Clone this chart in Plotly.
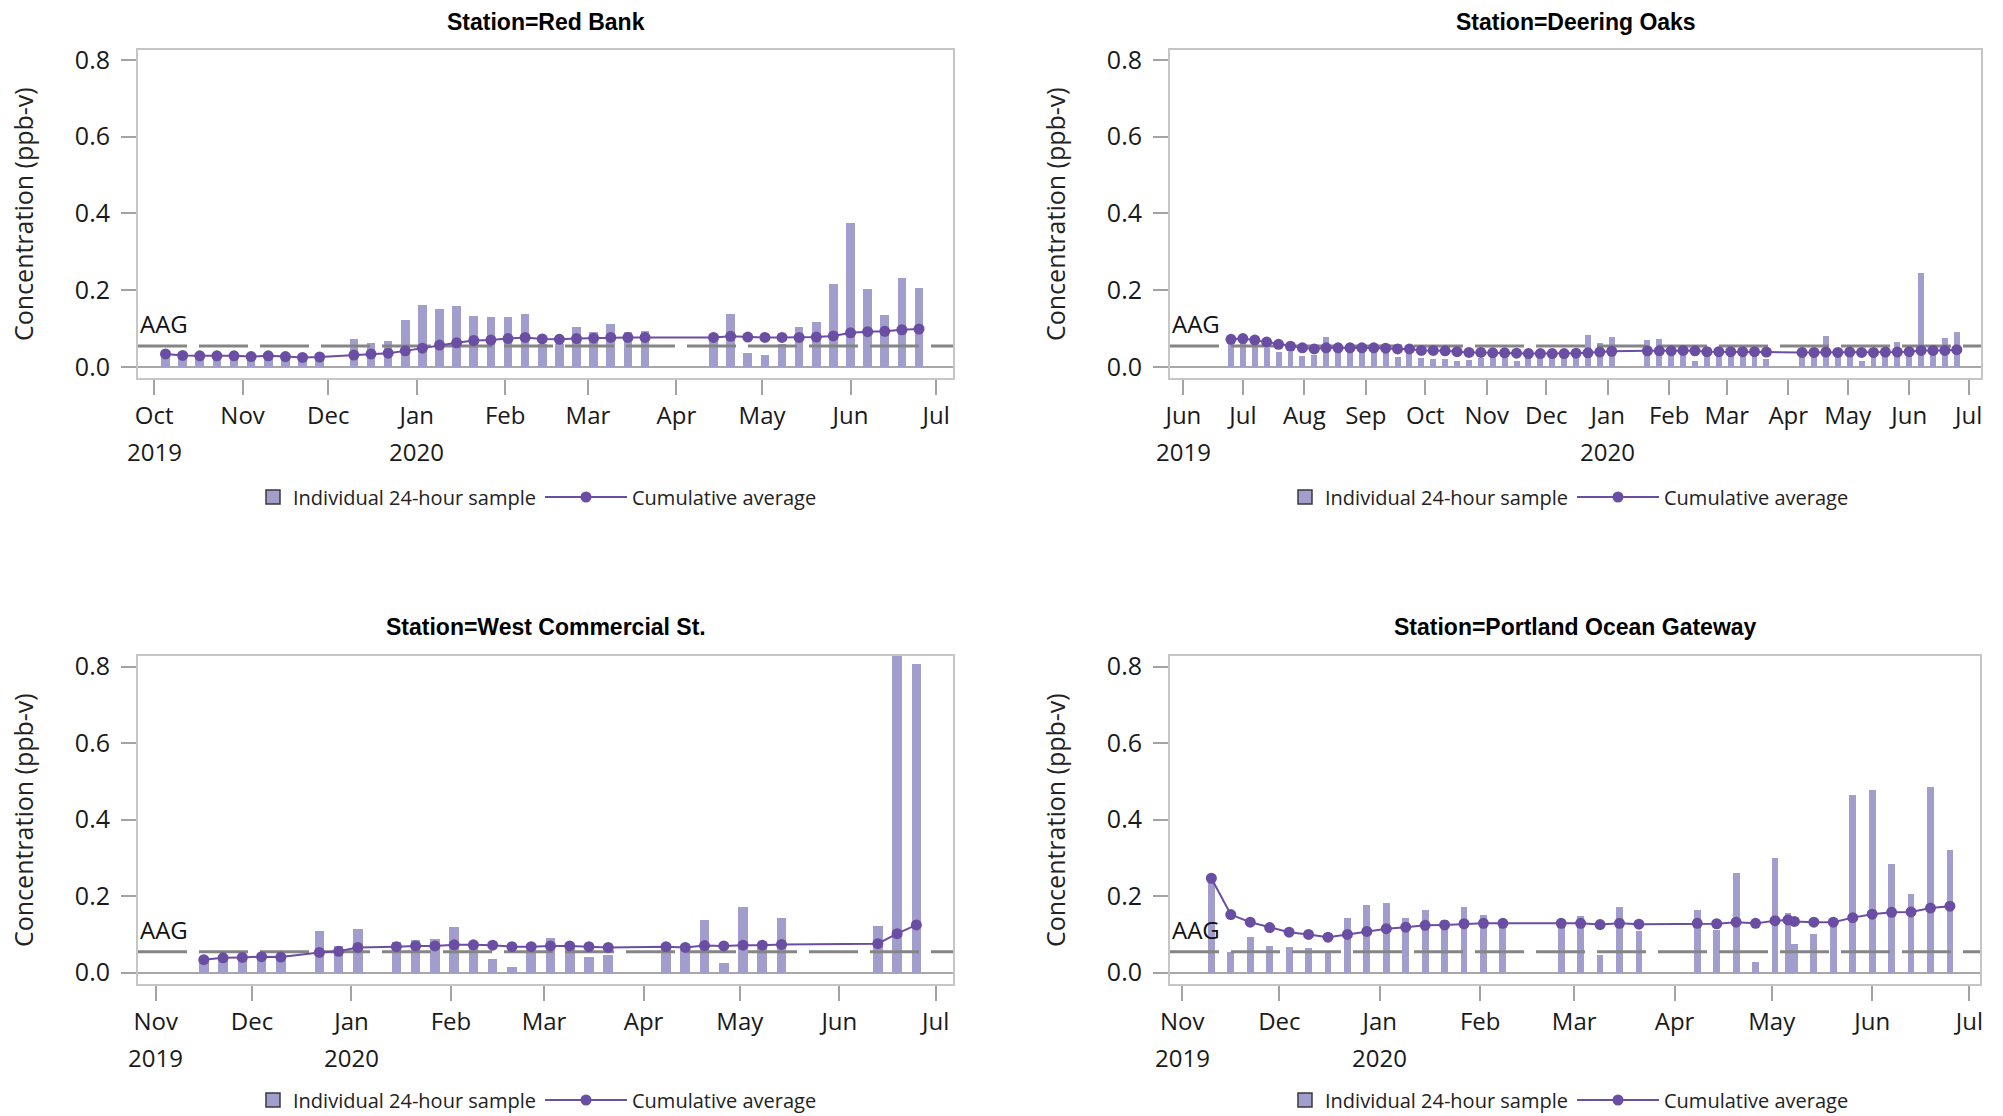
import plotly.graph_objects as go

# ---------------- data ----------------
AAG = 0.055

rb_dates = ["2019-10-05", "2019-10-11", "2019-10-17", "2019-10-23", "2019-10-29",
            "2019-11-04", "2019-11-10", "2019-11-16", "2019-11-22", "2019-11-28",
            "2019-12-10", "2019-12-16", "2019-12-22", "2019-12-28",
            "2020-01-03", "2020-01-09", "2020-01-15", "2020-01-21", "2020-01-27",
            "2020-02-02", "2020-02-08", "2020-02-14", "2020-02-20", "2020-02-26",
            "2020-03-03", "2020-03-09", "2020-03-15", "2020-03-21",
            "2020-04-14", "2020-04-20", "2020-04-26",
            "2020-05-02", "2020-05-08", "2020-05-14", "2020-05-20", "2020-05-26",
            "2020-06-01", "2020-06-07", "2020-06-13", "2020-06-19", "2020-06-25"]
rb_sample = [0.034, 0.027, 0.028, 0.027, 0.027, 0.022, 0.029, 0.026, 0.022, 0.027,
             0.073, 0.063, 0.069, 0.123, 0.161, 0.152, 0.158, 0.132, 0.129,
             0.130, 0.137, 0.060, 0.060, 0.103, 0.091, 0.112, 0.090, 0.095,
             0.070, 0.138, 0.037, 0.030, 0.060, 0.105, 0.117, 0.216,
             0.375, 0.202, 0.136, 0.233, 0.205]
rb_cumavg = [0.034, 0.030, 0.029, 0.029, 0.029, 0.027, 0.029, 0.027, 0.025, 0.026,
             0.031, 0.034, 0.036, 0.042, 0.049, 0.057, 0.063, 0.069, 0.070,
             0.074, 0.077, 0.073, 0.072, 0.074, 0.075, 0.077, 0.077, 0.077,
             0.077, 0.080, 0.078, 0.077, 0.077, 0.077, 0.078, 0.081,
             0.089, 0.092, 0.093, 0.097, 0.099]

do_dates = ["2019-06-25", "2019-07-01", "2019-07-07", "2019-07-13", "2019-07-19", "2019-07-25", "2019-07-31",
            "2019-08-06", "2019-08-12", "2019-08-18", "2019-08-24", "2019-08-30",
            "2019-09-05", "2019-09-11", "2019-09-17", "2019-09-23", "2019-09-29",
            "2019-10-05", "2019-10-11", "2019-10-17", "2019-10-23", "2019-10-29",
            "2019-11-04", "2019-11-10", "2019-11-16", "2019-11-22", "2019-11-28",
            "2019-12-04", "2019-12-10", "2019-12-16", "2019-12-22", "2019-12-28",
            "2020-01-03", "2020-01-21", "2020-01-27",
            "2020-02-02", "2020-02-08", "2020-02-14", "2020-02-20", "2020-02-26",
            "2020-03-03", "2020-03-09", "2020-03-15", "2020-03-21",
            "2020-04-08", "2020-04-14", "2020-04-20", "2020-04-26",
            "2020-05-02", "2020-05-08", "2020-05-14", "2020-05-20", "2020-05-26",
            "2020-06-01", "2020-06-07", "2020-06-13", "2020-06-19", "2020-06-25"]
do_sample = [0.072, 0.076, 0.062, 0.050, 0.040, 0.040, 0.029,
             0.030, 0.078, 0.052, 0.050, 0.052,
             0.050, 0.045, 0.025, 0.046, 0.023,
             0.020, 0.020, 0.016, 0.018, 0.023,
             0.023, 0.023, 0.016, 0.030, 0.035,
             0.035, 0.036, 0.035, 0.083, 0.063,
             0.078, 0.070, 0.072,
             0.045, 0.045, 0.016, 0.038, 0.040,
             0.042, 0.040, 0.038, 0.021,
             0.040, 0.040, 0.081, 0.038,
             0.036, 0.016, 0.038, 0.040, 0.065,
             0.042, 0.244, 0.045, 0.076, 0.091]
do_cumavg = [0.072, 0.074, 0.070, 0.065, 0.059, 0.054, 0.050,
             0.047, 0.050, 0.050, 0.050, 0.050,
             0.050, 0.049, 0.047, 0.047, 0.043,
             0.043, 0.042, 0.040, 0.038, 0.038,
             0.037, 0.037, 0.036, 0.035, 0.035,
             0.035, 0.035, 0.036, 0.037, 0.039,
             0.041, 0.042, 0.042,
             0.042, 0.043, 0.042, 0.040, 0.040,
             0.040, 0.040, 0.040, 0.039,
             0.038, 0.038, 0.039, 0.038,
             0.039, 0.038, 0.038, 0.039, 0.039,
             0.040, 0.043, 0.043, 0.043, 0.045]

wc_dates = ["2019-11-16", "2019-11-22", "2019-11-28", "2019-12-04", "2019-12-10",
            "2019-12-22", "2019-12-28", "2020-01-03",
            "2020-01-15", "2020-01-21", "2020-01-27", "2020-02-02", "2020-02-08",
            "2020-02-14", "2020-02-20", "2020-02-26",
            "2020-03-03", "2020-03-09", "2020-03-15", "2020-03-21",
            "2020-04-08", "2020-04-14", "2020-04-20", "2020-04-26",
            "2020-05-02", "2020-05-08", "2020-05-14",
            "2020-06-13", "2020-06-19", "2020-06-25"]
wc_sample = [0.034, 0.044, 0.042, 0.046, 0.040, 0.110, 0.070, 0.115,
             0.080, 0.085, 0.087, 0.119, 0.070, 0.036, 0.015, 0.060,
             0.092, 0.065, 0.042, 0.046, 0.065, 0.060, 0.138, 0.026,
             0.173, 0.065, 0.142, 0.122, 0.860, 0.807]
wc_cumavg = [0.034, 0.039, 0.040, 0.042, 0.041, 0.053, 0.056, 0.066,
             0.068, 0.070, 0.070, 0.073, 0.073, 0.072, 0.068, 0.068,
             0.070, 0.070, 0.068, 0.066, 0.068, 0.066, 0.071, 0.070,
             0.072, 0.072, 0.074, 0.076, 0.102, 0.125]

pg_dates = ["2019-11-10", "2019-11-16", "2019-11-22", "2019-11-28", "2019-12-04",
            "2019-12-10", "2019-12-16", "2019-12-22", "2019-12-28",
            "2020-01-03", "2020-01-09", "2020-01-15", "2020-01-21", "2020-01-27",
            "2020-02-02", "2020-02-08", "2020-02-26",
            "2020-03-03", "2020-03-09", "2020-03-15", "2020-03-21",
            "2020-04-08", "2020-04-14", "2020-04-20", "2020-04-26",
            "2020-05-02", "2020-05-06", "2020-05-08", "2020-05-14", "2020-05-20", "2020-05-26",
            "2020-06-01", "2020-06-07", "2020-06-13", "2020-06-19", "2020-06-25"]
pg_sample = [0.247, 0.055, 0.093, 0.070, 0.066, 0.064, 0.052, 0.143, 0.176,
             0.182, 0.143, 0.165, 0.139, 0.172, 0.150, 0.125, 0.125,
             0.148, 0.046, 0.173, 0.109, 0.163, 0.111, 0.261, 0.028,
             0.301, 0.155, 0.074, 0.100, 0.130, 0.464,
             0.478, 0.284, 0.207, 0.486, 0.320]
pg_cumavg = [0.247, 0.152, 0.132, 0.118, 0.106, 0.100, 0.093, 0.100, 0.108,
             0.115, 0.119, 0.124, 0.125, 0.128, 0.129, 0.129, 0.129,
             0.129, 0.126, 0.129, 0.127, 0.129, 0.128, 0.132, 0.129,
             0.136, 0.138, 0.134, 0.132, 0.132, 0.144,
             0.153, 0.158, 0.159, 0.169, 0.174]

station_names = ["Red Bank", "Deering Oaks", "West Commercial St.", "Portland Ocean Gateway"]

rb_months = ["2019-10-01", "2019-11-01", "2019-12-01", "2020-01-01", "2020-02-01", "2020-03-01",
             "2020-04-01", "2020-05-01", "2020-06-01", "2020-07-01"]
rb_month_labels = ["Oct", "Nov", "Dec", "Jan", "Feb", "Mar", "Apr", "May", "Jun", "Jul"]
do_months = ["2019-06-01", "2019-07-01", "2019-08-01", "2019-09-01", "2019-10-01", "2019-11-01",
             "2019-12-01", "2020-01-01", "2020-02-01", "2020-03-01", "2020-04-01", "2020-05-01",
             "2020-06-01", "2020-07-01"]
do_month_labels = ["Jun", "Jul", "Aug", "Sep", "Oct", "Nov", "Dec", "Jan", "Feb", "Mar", "Apr",
                   "May", "Jun", "Jul"]
nj_months = ["2019-11-01", "2019-12-01", "2020-01-01", "2020-02-01", "2020-03-01",
             "2020-04-01", "2020-05-01", "2020-06-01", "2020-07-01"]
nj_month_labels = ["Nov", "Dec", "Jan", "Feb", "Mar", "Apr", "May", "Jun", "Jul"]
rb_years = [("2019-10-01", "2019"), ("2020-01-01", "2020")]
do_years = [("2019-06-01", "2019"), ("2020-01-01", "2020")]
nj_years = [("2019-11-01", "2019"), ("2020-01-01", "2020")]

# ---------------- styling / layout ----------------
W, H = 2003, 1116
BAR_COLOR = "#a19dcc"
LINE_COLOR = "#6a4ea3"
FONT = "Open Sans"

panels = [
    dict(box=(138, 953, 50, 378), yr=[-0.0287, 0.826], xr=["2019-09-25 08:40", "2020-07-06 21:40"],
         data=(rb_dates, rb_sample, rb_cumavg), months=(rb_months, rb_month_labels), years=rb_years, bw=3.0),
    dict(box=(1170, 1981, 50, 378), yr=[-0.0287, 0.826], xr=["2019-05-25 06:00", "2020-07-07 05:00"],
         data=(do_dates, do_sample, do_cumavg), months=(do_months, do_month_labels), years=do_years, bw=3.0),
    dict(box=(138, 953, 656, 984), yr=[-0.0295, 0.828], xr=["2019-10-26 12:00", "2020-07-06 10:00"],
         data=(wc_dates, wc_sample, wc_cumavg), months=(nj_months, nj_month_labels), years=nj_years, bw=3.0),
    dict(box=(1170, 1980, 656, 984), yr=[-0.0295, 0.828], xr=["2019-10-28 05:30", "2020-07-04 07:00"],
         data=(pg_dates, pg_sample, pg_cumavg), months=(nj_months, nj_month_labels), years=nj_years, bw=2.1),
]
title_y = [22, 22, 627, 627]
year_y = [452, 452, 1057, 1057]
legend_y = [497, 497, 1100, 1100]
ytitle_x = [23, 1055, 23, 1055]
# left edge (px) of the swatch legend and of the line legend for each panel
legA_x = [253, 1285, 253, 1285]
legB_x = [540, 1572, 540, 1572]

fig = go.Figure()
annotations = []
layout = {}

for i, p in enumerate(panels):
    n = "" if i == 0 else str(i + 1)
    xa, ya = "x" + n, "y" + n
    legA = "legend" + ("" if i == 0 else str(2 * i + 1))
    legB = "legend" + str(2 * i + 2)
    dates, sample, cumavg = p["data"]
    x0, x1, y0, y1 = p["box"]

    fig.add_trace(go.Bar(x=dates, y=sample, xaxis=xa, yaxis=ya, width=p["bw"] * 86400000,
                         marker=dict(color=BAR_COLOR, line=dict(width=0)), showlegend=False,
                         name="Individual 24-hour sample"))
    fig.add_trace(go.Scatter(x=p["xr"], y=[AAG, AAG], xaxis=xa, yaxis=ya, mode="lines",
                             line=dict(color="#858585", width=3, dash="49px,12px"),
                             showlegend=False, hoverinfo="skip"))
    fig.add_trace(go.Scatter(x=[None], y=[None], xaxis=xa, yaxis=ya, mode="markers",
                             marker=dict(symbol="square", size=14, color=BAR_COLOR,
                                         line=dict(color="#3a3a3a", width=1.5)),
                             name="Individual 24-hour sample", legend=legA, showlegend=True))
    fig.add_trace(go.Scatter(x=dates, y=cumavg, xaxis=xa, yaxis=ya, mode="lines+markers",
                             line=dict(color=LINE_COLOR, width=2),
                             marker=dict(color=LINE_COLOR, size=11),
                             name="Cumulative average", legend=legB, showlegend=True))

    layout["xaxis" + n] = dict(
        domain=[x0 / W, x1 / W], type="date", range=p["xr"], anchor=ya,
        tickmode="array", tickvals=p["months"][0], ticktext=p["months"][1],
        ticks="outside", ticklen=15, tickwidth=2, tickcolor="#a3a3a3",
        showline=True, linecolor="#c6c6c6", linewidth=2, mirror=True,
        showgrid=False, zeroline=False, ticklabelstandoff=0,
        tickfont=dict(family=FONT, size=24, color="#1a1a1a"))
    layout["yaxis" + n] = dict(
        domain=[1 - y1 / H, 1 - y0 / H], range=p["yr"], anchor=xa,
        tickmode="array", tickvals=[0, 0.2, 0.4, 0.6, 0.8],
        ticktext=["0.0", "0.2", "0.4", "0.6", "0.8"],
        ticks="outside", ticklen=15, tickwidth=2, tickcolor="#a3a3a3",
        showline=True, linecolor="#c6c6c6", linewidth=2, mirror=True,
        showgrid=False, zeroline=True, zerolinecolor="#a8a8a8", zerolinewidth=2,
        ticklabelstandoff=6,
        tickfont=dict(family=FONT, size=25, color="#1a1a1a"))
    common_leg = dict(orientation="h", y=1 - legend_y[i] / H, yanchor="middle",
                      xanchor="left", font=dict(family=FONT, size=20, color="#222222"),
                      bgcolor="rgba(0,0,0,0)", borderwidth=0)
    layout[legA] = dict(x=legA_x[i] / W, itemwidth=30, **common_leg)
    layout[legB] = dict(x=legB_x[i] / W, itemwidth=82, **common_leg)

    annotations.append(dict(text="Station=" + station_names[i], xref="paper", yref="paper",
                            x=(x0 + x1) / 2 / W, y=1 - title_y[i] / H, xanchor="center",
                            yanchor="middle", showarrow=False,
                            font=dict(family="Liberation Sans", size=23, color="#000000",
                                      weight="bold")))
    annotations.append(dict(text="Concentration (ppb-v)", xref="paper", yref="paper",
                            x=ytitle_x[i] / W, y=1 - (y0 + y1) / 2 / H, xanchor="center",
                            yanchor="middle", textangle=-90, showarrow=False,
                            font=dict(family=FONT, size=25, color="#222222")))
    annotations.append(dict(text="AAG", xref=xa + " domain", yref=ya, x=0, y=AAG,
                            xanchor="left", yanchor="bottom", yshift=4, showarrow=False,
                            font=dict(family=FONT, size=24, color="#111111")))
    for d, t in p["years"]:
        annotations.append(dict(text=t, xref=xa, yref="paper", x=d, y=1 - year_y[i] / H,
                                xanchor="center", yanchor="middle", showarrow=False,
                                font=dict(family=FONT, size=24, color="#1a1a1a")))

fig.update_layout(width=W, height=H, margin=dict(l=0, r=0, t=0, b=0, autoexpand=False),
                  paper_bgcolor="white", plot_bgcolor="white",
                  bargap=0, annotations=annotations, **layout)

fig.write_html("out.html", config={"displayModeBar": False},
               post_script="document.body.style.margin='0';document.body.style.overflow='hidden';")
